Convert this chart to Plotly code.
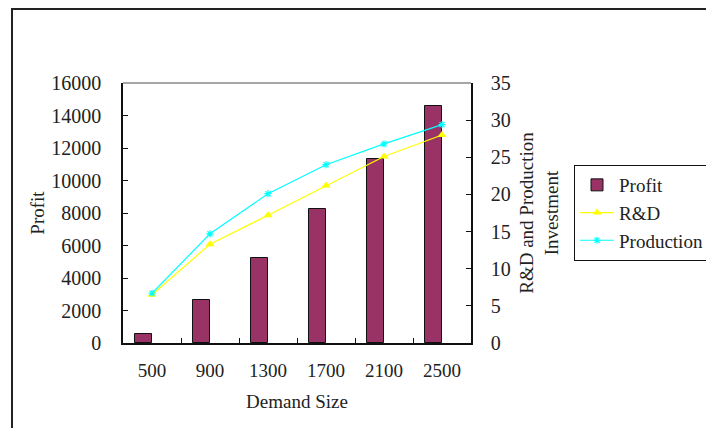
import plotly.graph_objects as go

categories = ["500", "900", "1300", "1700", "2100", "2500"]
profit = [580, 2670, 5250, 8250, 11350, 14580]
rd = [6.5, 13.3, 17.2, 21.2, 25.1, 28.0]
production = [6.7, 14.7, 20.1, 24.0, 26.8, 29.4]

left_ticks = [0, 2000, 4000, 6000, 8000, 10000, 12000, 14000, 16000]
right_ticks = [0, 5, 10, 15, 20, 25, 30, 35]

FONT = "Liberation Serif, serif"
TXT = "#222222"

fig = go.Figure()
fig.add_trace(go.Bar(
    x=categories, y=profit, name="Profit",
    marker=dict(color="#993366", line=dict(color="#111111", width=1)),
    width=0.3, offset=-0.3, yaxis="y",
))
fig.add_trace(go.Scatter(
    x=categories, y=rd, name="R&D", yaxis="y2", mode="lines+markers",
    line=dict(color="#FFFF00", width=1.2),
    marker=dict(symbol="triangle-up", size=8, color="#FFFF00"),
))
fig.add_trace(go.Scatter(
    x=categories, y=production, name="Production", yaxis="y2", mode="lines+markers",
    line=dict(color="#00FFFF", width=1.2),
    marker=dict(symbol="asterisk-open", size=6, line=dict(color="#00FFFF", width=1.2)),
))

# page body has an 8px margin; work in figure coordinates
OFF = 8
W, H = 714 - OFF, 428 - OFF
L, R, T, B = 123 - OFF, 471 - OFF, 83 - OFF, 343 - OFF
pw, ph = R - L, B - T

def px(x):
    return (x - OFF - L) / pw

def py(y):
    return (B - (y - OFF)) / ph

fig.update_layout(
    width=W, height=H,
    margin=dict(l=L, r=W - R, t=T, b=H - B, autoexpand=False),
    paper_bgcolor="white", plot_bgcolor="white",
    font=dict(family=FONT, size=19, color=TXT),
    showlegend=True,
    bargap=0,
    xaxis=dict(
        type="category", showline=True, linecolor="#111111", linewidth=1.5,
        ticks="inside", tickson="boundaries", ticklen=5, tickcolor="#111111",
        showgrid=False, ticklabelstandoff=9,
        title=dict(text="Demand Size", standoff=15, font=dict(size=19)),
    ),
    yaxis=dict(
        range=[0, 16000], tickvals=left_ticks, ticktext=[str(v) for v in left_ticks],
        showline=True, linecolor="#111111", linewidth=1.5,
        ticks="inside", ticklen=5, tickcolor="#111111", showgrid=False,
        zeroline=False, ticklabelstandoff=16, tickfont=dict(size=20),
        title=dict(text="Profit", standoff=2, font=dict(size=19)),
    ),
    yaxis2=dict(
        overlaying="y", side="right", range=[0, 35], tickvals=right_ticks,
        showline=True, linecolor="#111111", linewidth=1.5,
        ticks="inside", ticklen=5, tickcolor="#111111", showgrid=False,
        zeroline=False, ticklabelstandoff=14, tickfont=dict(size=20),
        title=dict(text="R&D and Production<br>Investment", standoff=10, font=dict(size=19)),
    ),
    legend=dict(
        x=px(574), y=py(165), xanchor="left", yanchor="top",
        bgcolor="white", bordercolor="#111111", borderwidth=1,
        font=dict(size=19), tracegroupgap=0, itemwidth=34,
    ),
    shapes=[
        dict(type="line", xref="paper", yref="paper", x0=0, x1=1, y0=1, y1=1,
             line=dict(color="#888888", width=1.5)),
        dict(type="rect", xref="paper", yref="paper",
             x0=px(12), x1=px(740), y0=py(9), y1=py(460),
             line=dict(color="#222222", width=2), layer="below"),
    ],
)

fig.write_html("out.html")
